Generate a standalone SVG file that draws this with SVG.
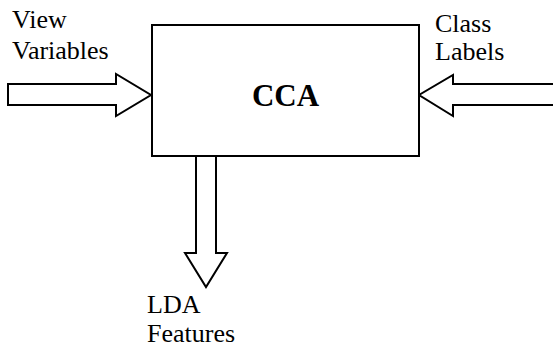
<svg xmlns="http://www.w3.org/2000/svg" width="553" height="348" viewBox="0 0 553 348">
<style>
.shape{fill:#fff;stroke:#000;stroke-width:2;stroke-linejoin:miter}
.lbl{font-family:"Liberation Serif","Times New Roman",serif;font-size:26px;fill:#000}
.title{font-family:"Liberation Serif","Times New Roman",serif;font-size:31px;font-weight:bold;fill:#000}
</style>
<rect width="553" height="348" fill="#fff"/>
<g id="connectors">
<polygon class="shape" points="8,84 116,84 116,74 151,95 116,116 116,105 8,105"/>
<polygon class="shape" points="555,84 453,84 453,75 419,95 453,116 453,105 555,105"/>
<polygon class="shape" points="196,156 216,156 216,253 227,253 206,287 185,253 196,253"/>
</g>
<g id="node-cca">
<rect class="shape" x="152" y="25" width="267" height="131"/>
<text class="title" x="285.5" y="106" text-anchor="middle">CCA</text>
</g>
<g id="label-view">
<text class="lbl" x="12" y="28">View</text>
<text class="lbl" x="12" y="59">Variables</text>
</g>
<g id="label-class">
<text class="lbl" x="435" y="32">Class</text>
<text class="lbl" x="435" y="60">Labels</text>
</g>
<g id="label-lda">
<text class="lbl" x="147" y="313">LDA</text>
<text class="lbl" x="147" y="342">Features</text>
</g>
</svg>
